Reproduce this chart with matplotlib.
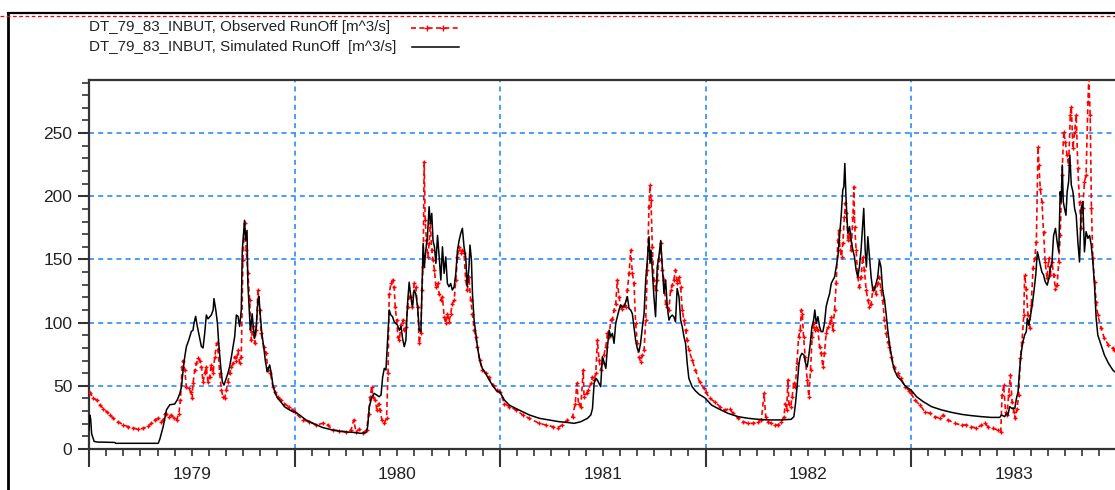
import matplotlib
matplotlib.use("Agg")
import matplotlib.pyplot as plt
from matplotlib.lines import Line2D
from matplotlib.ticker import FixedLocator, MultipleLocator, FuncFormatter, NullFormatter

plt.rcParams['font.family'] = ['Liberation Sans', 'DejaVu Sans']

# Données : (fraction de l'année, débit m^3/s)
years = [1979, 1980, 1981, 1982, 1983]

sim_1979 = [(0.000, 15), (0.003, 27), (0.008, 24), (0.013, 12), (0.025, 6), (0.040, 5.5), (0.125, 5.2), (0.130, 4.5),
            (0.337, 4.5), (0.345, 8), (0.361, 17.7), (0.377, 31), (0.393, 35), (0.417, 35.6), (0.430, 39), (0.442, 44),
            (0.450, 49), (0.458, 62.5), (0.466, 73), (0.474, 81), (0.485, 86), (0.498, 93), (0.506, 94), (0.511, 99.5),
            (0.519, 105), (0.526, 98), (0.534, 91.5), (0.547, 81), (0.555, 80), (0.563, 91.5), (0.571, 106), (0.579, 103),
            (0.595, 106), (0.604, 110), (0.608, 119), (0.617, 110), (0.625, 99.5), (0.631, 84), (0.641, 65), (0.649, 53),
            (0.657, 50.6), (0.665, 54.6), (0.676, 60), (0.684, 65), (0.693, 73), (0.701, 81), (0.709, 89), (0.717, 106),
            (0.725, 105), (0.733, 97), (0.741, 110), (0.746, 157.5), (0.752, 170.7), (0.757, 181), (0.762, 165),
            (0.769, 173), (0.773, 131), (0.778, 115), (0.785, 94), (0.790, 99.5), (0.794, 107), (0.801, 94),
            (0.806, 87.6), (0.814, 97), (0.822, 118), (0.827, 120.6), (0.833, 107), (0.841, 91.5), (0.850, 81),
            (0.858, 70), (0.867, 61), (0.879, 66.5), (0.887, 60), (0.895, 50.6), (0.906, 44), (0.919, 40), (0.935, 37),
            (0.951, 33.5), (0.971, 31.4), (0.992, 29.5)]

sim_1980 = [(0.000, 29.5), (0.024, 27), (0.056, 23), (0.097, 19.8), (0.137, 17), (0.186, 15), (0.234, 13.7),
            (0.283, 13.2), (0.323, 12.4), (0.348, 13), (0.356, 17.7), (0.364, 33.5), (0.377, 41.4), (0.388, 44),
            (0.400, 42.7), (0.412, 41.4), (0.421, 42.7), (0.429, 57), (0.437, 63.8), (0.445, 62.5), (0.453, 86),
            (0.461, 110), (0.469, 106), (0.477, 104.7), (0.485, 100.7), (0.493, 99.4), (0.501, 98), (0.510, 94),
            (0.518, 96.8), (0.526, 87.5), (0.534, 81), (0.542, 86), (0.550, 115), (0.558, 132), (0.566, 120.5),
            (0.574, 112.6), (0.582, 125.8), (0.590, 123), (0.599, 112.6), (0.607, 94), (0.615, 92.8), (0.620, 125.8),
            (0.626, 162.7), (0.632, 144), (0.639, 157.4), (0.647, 168), (0.655, 191.7), (0.661, 178.5), (0.668, 186.4),
            (0.674, 165), (0.681, 160), (0.688, 146.9), (0.696, 169), (0.704, 152), (0.712, 133.7), (0.720, 160),
            (0.728, 139), (0.736, 152), (0.744, 131), (0.752, 128.4), (0.760, 131), (0.768, 125.8), (0.777, 128.4),
            (0.785, 139), (0.793, 157.4), (0.801, 165), (0.809, 170.6), (0.817, 174.6), (0.825, 160), (0.833, 152),
            (0.841, 128.4), (0.849, 144), (0.854, 161.4), (0.861, 149.5), (0.866, 123), (0.874, 102), (0.882, 91.5),
            (0.890, 81), (0.901, 70.4), (0.914, 63.8), (0.930, 59.9), (0.946, 55), (0.966, 49.8), (0.987, 45.4)]

sim_1981 = [(0.000, 45), (0.021, 38.8), (0.045, 34.8), (0.078, 32), (0.110, 29.5), (0.142, 27), (0.191, 24.3),
            (0.239, 23), (0.288, 21.6), (0.328, 21), (0.361, 20.3), (0.393, 21.6), (0.426, 24.3), (0.442, 27),
            (0.450, 32), (0.458, 52), (0.466, 56), (0.474, 54.6), (0.482, 52), (0.490, 49.3), (0.498, 73), (0.506, 69),
            (0.515, 63.8), (0.523, 81), (0.531, 94), (0.539, 88.9), (0.547, 91.5), (0.555, 83.6), (0.563, 99.4),
            (0.571, 104.7), (0.579, 110), (0.587, 114), (0.595, 112.6), (0.604, 112.6), (0.612, 116.6), (0.620, 120.5),
            (0.628, 111), (0.636, 110), (0.644, 107), (0.652, 96.8), (0.660, 86), (0.668, 79.6), (0.676, 77),
            (0.684, 83.6), (0.693, 96.8), (0.701, 107), (0.709, 133.7), (0.717, 149.5), (0.725, 168), (0.730, 146.9),
            (0.735, 157.4), (0.741, 141.6), (0.749, 120.5), (0.757, 104.7), (0.765, 144), (0.773, 152), (0.782, 165),
            (0.790, 144), (0.798, 123), (0.806, 133.7), (0.814, 112.6), (0.822, 102), (0.830, 104.7), (0.838, 106),
            (0.846, 104.7), (0.854, 100.7), (0.862, 127), (0.871, 120.5), (0.879, 102), (0.887, 96.8), (0.895, 88.9),
            (0.903, 83.6), (0.911, 67.8), (0.919, 55.9), (0.935, 49.3), (0.951, 46), (0.971, 43), (0.992, 41)]

sim_1982 = [(0.000, 40), (0.029, 34.8), (0.061, 32), (0.110, 28.2), (0.159, 25.6), (0.207, 24.3), (0.256, 23.5),
            (0.304, 23), (0.369, 23), (0.417, 23.5), (0.430, 25.6), (0.438, 36), (0.447, 52), (0.455, 67.8),
            (0.461, 73), (0.469, 75.7), (0.479, 74.4), (0.487, 67.8), (0.495, 65), (0.502, 73), (0.510, 83.6),
            (0.518, 96.8), (0.526, 102), (0.532, 110), (0.539, 99.4), (0.547, 104.7), (0.555, 96.8), (0.563, 92.8),
            (0.571, 92.8), (0.579, 99.4), (0.587, 112.6), (0.595, 117.9), (0.604, 123), (0.612, 131), (0.620, 133.7),
            (0.628, 136), (0.636, 144), (0.644, 152), (0.652, 168), (0.660, 183.8), (0.668, 205), (0.673, 207.5),
            (0.678, 226), (0.683, 202), (0.688, 183.8), (0.693, 170.6), (0.701, 176), (0.709, 165), (0.717, 157.4),
            (0.725, 152), (0.733, 141.6), (0.741, 136), (0.749, 144), (0.757, 157.4), (0.765, 178.5), (0.770, 190.4),
            (0.777, 157.4), (0.783, 144), (0.790, 168), (0.798, 152), (0.806, 136), (0.814, 125.8), (0.822, 125.8),
            (0.830, 131), (0.838, 136), (0.846, 149.5), (0.854, 144), (0.862, 125.8), (0.871, 117.9), (0.879, 107),
            (0.887, 94), (0.895, 83.6), (0.903, 75.7), (0.911, 67.8), (0.919, 62.5), (0.935, 57), (0.951, 54.6),
            (0.971, 50), (0.992, 47.5)]

sim_1983 = [(0.000, 46.7), (0.027, 41.4), (0.060, 37.4), (0.100, 33.5), (0.149, 30.9), (0.197, 29), (0.246, 27.4),
            (0.294, 26.4), (0.343, 25.6), (0.391, 25), (0.432, 25), (0.440, 26.9), (0.456, 25.6), (0.464, 28.2),
            (0.472, 26.9), (0.480, 33.5), (0.492, 32), (0.505, 32), (0.513, 40), (0.521, 45.4), (0.529, 63.8),
            (0.537, 77), (0.545, 85), (0.553, 90.2), (0.561, 92.8), (0.566, 103.4), (0.573, 98), (0.582, 106),
            (0.590, 114), (0.598, 124.5), (0.607, 137.7), (0.615, 156), (0.621, 152), (0.629, 145.6), (0.637, 140),
            (0.645, 137.7), (0.653, 132.4), (0.663, 129.7), (0.671, 135), (0.678, 143), (0.686, 148), (0.694, 169),
            (0.703, 174.6), (0.711, 164), (0.719, 156), (0.726, 203.6), (0.731, 195.7), (0.736, 224.7), (0.741, 195.7),
            (0.747, 190.4), (0.754, 185), (0.760, 203.6), (0.767, 211.5), (0.773, 232.6), (0.780, 208.9),
            (0.788, 203.6), (0.796, 190.4), (0.804, 185), (0.812, 164), (0.820, 148), (0.828, 190.4), (0.836, 195.7),
            (0.844, 156), (0.852, 172), (0.861, 166.7), (0.869, 169), (0.877, 161.4), (0.885, 148), (0.893, 129.7),
            (0.901, 103.4), (0.909, 90.2), (0.925, 82.3), (0.941, 74.4), (0.961, 67.8), (0.982, 62.5), (0.990, 61.2)]

obs_1979 = [(0.000, 45), (0.006, 44.6), (0.021, 40), (0.037, 38.8), (0.053, 34.8), (0.070, 32), (0.086, 29.5),
            (0.102, 27), (0.118, 24.3), (0.142, 21.6), (0.167, 19), (0.191, 17.7), (0.215, 16.6), (0.239, 15.6),
            (0.264, 16.4), (0.288, 18.2), (0.304, 20.3), (0.320, 23), (0.337, 24.3), (0.350, 21.6), (0.361, 23),
            (0.369, 28), (0.377, 28), (0.388, 25.6), (0.401, 27), (0.414, 24.3), (0.426, 23), (0.437, 28),
            (0.445, 38.8), (0.453, 65), (0.458, 70), (0.466, 62.5), (0.474, 49), (0.485, 48), (0.495, 45),
            (0.502, 40), (0.506, 52), (0.515, 62.5), (0.523, 67.8), (0.531, 72), (0.539, 70), (0.547, 65), (0.555, 53),
            (0.563, 60), (0.571, 65), (0.579, 53), (0.587, 57), (0.595, 66.5), (0.604, 60), (0.612, 73), (0.621, 83.6),
            (0.628, 78), (0.636, 60), (0.644, 46.7), (0.652, 41.4), (0.660, 40), (0.668, 46.7), (0.676, 53),
            (0.684, 60), (0.693, 65), (0.701, 67.8), (0.709, 73), (0.717, 70), (0.725, 78), (0.733, 67.8), (0.741, 73),
            (0.749, 149.6), (0.757, 178.6), (0.765, 157.5), (0.773, 139), (0.782, 118), (0.790, 86), (0.798, 97),
            (0.806, 83.6), (0.814, 94), (0.822, 126), (0.830, 110), (0.838, 91.5), (0.850, 81), (0.862, 75.7),
            (0.871, 62.5), (0.883, 60), (0.895, 49), (0.906, 45), (0.919, 41.4), (0.935, 38.8), (0.951, 36),
            (0.971, 33.5), (0.992, 31)]

obs_1980 = [(0.000, 29), (0.040, 23), (0.072, 21.6), (0.105, 19), (0.137, 20.3), (0.162, 19), (0.186, 15),
            (0.218, 14.5), (0.251, 13.7), (0.275, 15), (0.288, 23), (0.299, 13.7), (0.315, 15.6), (0.332, 13),
            (0.351, 15), (0.361, 28), (0.369, 41.4), (0.375, 49.3), (0.383, 41.4), (0.393, 38.8), (0.401, 30.9),
            (0.409, 36), (0.416, 30.9), (0.425, 23), (0.437, 20.3), (0.448, 24.3), (0.455, 60), (0.461, 123),
            (0.469, 131), (0.477, 133.7), (0.485, 128.4), (0.490, 112.6), (0.497, 102), (0.503, 89), (0.510, 86),
            (0.518, 98), (0.526, 102), (0.534, 94), (0.542, 96.8), (0.550, 112.6), (0.558, 120.5), (0.566, 120.5),
            (0.574, 112.6), (0.582, 131), (0.590, 128.4), (0.599, 112.6), (0.607, 83.6), (0.615, 91.5), (0.620, 125.8),
            (0.626, 144), (0.631, 227), (0.636, 181), (0.642, 165), (0.649, 152), (0.655, 162.7), (0.661, 178.5),
            (0.668, 157.4), (0.674, 149.5), (0.681, 141.6), (0.688, 128.4), (0.696, 131), (0.704, 123), (0.712, 118),
            (0.720, 120.5), (0.728, 104.7), (0.736, 99.4), (0.744, 107), (0.752, 100.7), (0.760, 107), (0.768, 115),
            (0.777, 118), (0.785, 133.7), (0.793, 152), (0.801, 160), (0.809, 154.8), (0.817, 157.4), (0.825, 154.8),
            (0.833, 133.7), (0.841, 125.8), (0.849, 136), (0.857, 118), (0.866, 107), (0.874, 94), (0.882, 89),
            (0.890, 81), (0.901, 70.4), (0.914, 62.5), (0.930, 60), (0.946, 56.7), (0.966, 50.6), (0.987, 46.7)]

obs_1981 = [(0.000, 45.4), (0.021, 36), (0.045, 33.5), (0.078, 30.9), (0.110, 27), (0.142, 24.3), (0.191, 20.3),
            (0.223, 19), (0.256, 17.7), (0.280, 17), (0.304, 19), (0.328, 23), (0.353, 25.6), (0.366, 36), (0.374, 52),
            (0.382, 36), (0.393, 33.5), (0.405, 62.5), (0.409, 41.4), (0.421, 44), (0.430, 46.7), (0.442, 52),
            (0.450, 57), (0.458, 54.6), (0.466, 59.9), (0.474, 86), (0.482, 70.4), (0.490, 62.5), (0.498, 67.8),
            (0.506, 74.4), (0.515, 81), (0.523, 91.5), (0.531, 88.9), (0.539, 102), (0.547, 103), (0.555, 110),
            (0.563, 115), (0.571, 133.7), (0.579, 120.5), (0.587, 112.6), (0.595, 111), (0.604, 114), (0.612, 112.6),
            (0.620, 125.8), (0.628, 139), (0.636, 157.4), (0.644, 139), (0.652, 131), (0.660, 99.4), (0.668, 83.6),
            (0.676, 73), (0.684, 69), (0.693, 74.4), (0.701, 78.3), (0.709, 102), (0.717, 141.6), (0.725, 191.7),
            (0.730, 208.9), (0.735, 197), (0.741, 160), (0.749, 133.7), (0.757, 125.8), (0.765, 133.7), (0.773, 149.5),
            (0.782, 162.7), (0.790, 141.6), (0.798, 133.7), (0.806, 115), (0.814, 112.6), (0.822, 110), (0.830, 125.8),
            (0.838, 129.7), (0.846, 133.7), (0.854, 141.6), (0.862, 131), (0.871, 136.3), (0.879, 128.4), (0.887, 110),
            (0.895, 102), (0.903, 94), (0.911, 86), (0.919, 78.3), (0.935, 70.4), (0.951, 62.5), (0.971, 53),
            (0.992, 48)]

obs_1982 = [(0.000, 45.4), (0.021, 40), (0.045, 37.4), (0.070, 33.5), (0.094, 30.9), (0.118, 32), (0.134, 28.2),
            (0.159, 24.3), (0.183, 21.6), (0.207, 20.3), (0.231, 20.3), (0.256, 21.6), (0.272, 23), (0.285, 44),
            (0.293, 25.6), (0.304, 21.6), (0.320, 20.3), (0.337, 19), (0.353, 19), (0.369, 21.6), (0.382, 25.6),
            (0.388, 36), (0.395, 30.9), (0.401, 54.6), (0.406, 36), (0.414, 33.5), (0.422, 41.4), (0.429, 52),
            (0.437, 49.3), (0.445, 67.8), (0.453, 88.9), (0.461, 94), (0.466, 110), (0.471, 107), (0.477, 88.9),
            (0.485, 73), (0.495, 54.6), (0.503, 41.4), (0.511, 62.5), (0.519, 88.9), (0.526, 99.4), (0.532, 94),
            (0.539, 96.8), (0.547, 94), (0.555, 81), (0.563, 75.7), (0.571, 65), (0.579, 75.7), (0.587, 91.5),
            (0.595, 96.8), (0.604, 99.4), (0.612, 104.7), (0.620, 94), (0.628, 110), (0.636, 131), (0.644, 165),
            (0.649, 173), (0.655, 157.4), (0.662, 152), (0.668, 162.7), (0.676, 183.8), (0.681, 194.4), (0.686, 186.4),
            (0.693, 165), (0.701, 170.6), (0.709, 157.4), (0.717, 183.8), (0.722, 207.5), (0.726, 176), (0.733, 157.4),
            (0.741, 136), (0.749, 128.4), (0.757, 136), (0.765, 152), (0.773, 141.6), (0.782, 125.8), (0.790, 117.9),
            (0.798, 112.6), (0.806, 115), (0.814, 125.8), (0.822, 128.4), (0.830, 123), (0.838, 131), (0.846, 136),
            (0.854, 125.8), (0.862, 117.9), (0.871, 102), (0.879, 91.5), (0.887, 85), (0.895, 81), (0.903, 73),
            (0.919, 65), (0.935, 59.9), (0.951, 55.9), (0.971, 49.3), (0.992, 46.1)]

obs_1983 = [(0.000, 44), (0.019, 38.8), (0.043, 34.8), (0.068, 29.5), (0.092, 28.2), (0.116, 25.6), (0.140, 24.3),
            (0.157, 26.9), (0.181, 22.9), (0.213, 20.3), (0.246, 19), (0.270, 19), (0.294, 17.7), (0.318, 16.4),
            (0.343, 19), (0.359, 20.3), (0.375, 17.7), (0.399, 16.4), (0.424, 15), (0.437, 13.7), (0.443, 42.7),
            (0.451, 50.6), (0.460, 29.5), (0.467, 26.9), (0.475, 42.7), (0.484, 58.5), (0.492, 37.4), (0.500, 29.5),
            (0.508, 24.3), (0.516, 32), (0.524, 42.7), (0.532, 71.7), (0.540, 85), (0.549, 106), (0.553, 137.7),
            (0.561, 127), (0.569, 106), (0.577, 95.5), (0.585, 114), (0.594, 143), (0.602, 150.8), (0.610, 164),
            (0.618, 239), (0.623, 224.7), (0.629, 206), (0.637, 195.7), (0.645, 172), (0.653, 148), (0.662, 135),
            (0.670, 150.8), (0.678, 137.7), (0.686, 148), (0.694, 137.7), (0.703, 127), (0.711, 129.7), (0.719, 148),
            (0.726, 169), (0.735, 216.8), (0.743, 251), (0.751, 243), (0.759, 232.6), (0.767, 224.7), (0.775, 264),
            (0.780, 270.8), (0.788, 238), (0.796, 251), (0.804, 264), (0.812, 222), (0.820, 195.7), (0.828, 174.6),
            (0.836, 190.4), (0.844, 211.5), (0.852, 216.8), (0.861, 274.8), (0.865, 293), (0.872, 264), (0.878, 190.4),
            (0.885, 150.8), (0.893, 132.4), (0.901, 116.6), (0.909, 106), (0.925, 95.5), (0.941, 87.6), (0.961, 82.3),
            (0.982, 79.6), (0.990, 78.3)]


def serie(blocs):
    t, q = [], []
    for an, pts in zip(years, blocs):
        for f, v in pts:
            t.append(an + f)
            q.append(v)
    return t, q


sim_t, sim_q = serie([sim_1979, sim_1980, sim_1981, sim_1982, sim_1983])
obs_t, obs_q = serie([obs_1979, obs_1980, obs_1981, obs_1982, obs_1983])

W, H = 1115, 490
fig = plt.figure(figsize=(W / 100, H / 100), dpi=100)
fig.set_facecolor("white")
ax = fig.add_axes([89 / W, 41 / H, 1048 / W, 369 / H])

ax.plot(obs_t, obs_q, color="red", lw=1.2, linestyle=(0, (3, 2)),
        marker="+", markersize=3.5, markeredgewidth=1.0, markevery=1, zorder=3)
ax.plot(sim_t, sim_q, color="black", lw=1.1, zorder=4)

ax.set_xlim(1979, 1979 + 1048 / 205.5)
ax.set_ylim(0, 292)

# Graduations
ax.xaxis.set_major_locator(FixedLocator(list(range(1979, 1986))))
ax.xaxis.set_minor_locator(FixedLocator([a + m / 12 for a in range(1979, 1985) for m in range(1, 12)]))
ax.xaxis.set_major_formatter(NullFormatter())
ax.xaxis.set_minor_formatter(FuncFormatter(
    lambda v, p: str(int(v)) if abs(v - int(v) - 0.5) < 1e-6 else ""))
ax.yaxis.set_major_locator(MultipleLocator(50))
ax.yaxis.set_minor_locator(MultipleLocator(10))

ax.tick_params(axis="x", which="major", direction="out", length=13, width=1.5, color="#333333")
ax.tick_params(axis="x", which="minor", direction="out", length=5, width=1.2, color="#333333",
               labelsize=12.5, pad=8, labelcolor="#222222")
ax.tick_params(axis="y", which="major", direction="out", length=8, width=1.5, color="#333333",
               labelsize=12.5, pad=4, labelcolor="#222222")
ax.tick_params(axis="y", which="minor", direction="out", length=5, width=1.2, color="#333333")

# Grille
for a in [1980, 1981, 1982, 1983, 1984]:
    ax.axvline(a, color="#2a8cff", lw=1.2, linestyle=(0, (3, 2.5)), zorder=1)
for v in [50, 100, 150, 200, 250]:
    ax.axhline(v, color="#2a8cff", lw=1.2, linestyle=(0, (3, 2.5)), zorder=1)

for s in ["left", "bottom", "top"]:
    ax.spines[s].set_color("#333333")
    ax.spines[s].set_linewidth(1.6)
ax.spines["right"].set_visible(False)

# Cadre de la figure
fig.add_artist(Line2D([8 / W, 8 / W], [0, 1 - 13 / H], color="black", lw=2, transform=fig.transFigure))
fig.add_artist(Line2D([8 / W, 1], [1 - 13 / H, 1 - 13 / H], color="black", lw=1.6, transform=fig.transFigure))
fig.add_artist(Line2D([0, 1], [1 - 16.5 / H, 1 - 16.5 / H], color="red", lw=0.9,
                      linestyle=(0, (3, 2)), transform=fig.transFigure))

# Légende
fig.text(89 / W, 1 - 27 / H, "DT_79_83_INBUT, Observed RunOff [m^3/s]", fontsize=10.9,
         va="center", ha="left", color="#222222")
fig.text(89 / W, 1 - 47 / H, "DT_79_83_INBUT, Simulated RunOff  [m^3/s]", fontsize=10.9,
         va="center", ha="left", color="#222222")
lx = [411 / W, 427 / W, 443 / W, 460 / W]
fig.add_artist(Line2D(lx, [1 - 28 / H] * 4, color="red", lw=1.2, linestyle=(0, (3, 2)),
                      marker="+", markersize=4, markevery=[1, 2], transform=fig.transFigure))
fig.add_artist(Line2D([412 / W, 459 / W], [1 - 47 / H] * 2, color="black", lw=1.1,
                      transform=fig.transFigure))

fig.savefig("out.png", dpi=100)
